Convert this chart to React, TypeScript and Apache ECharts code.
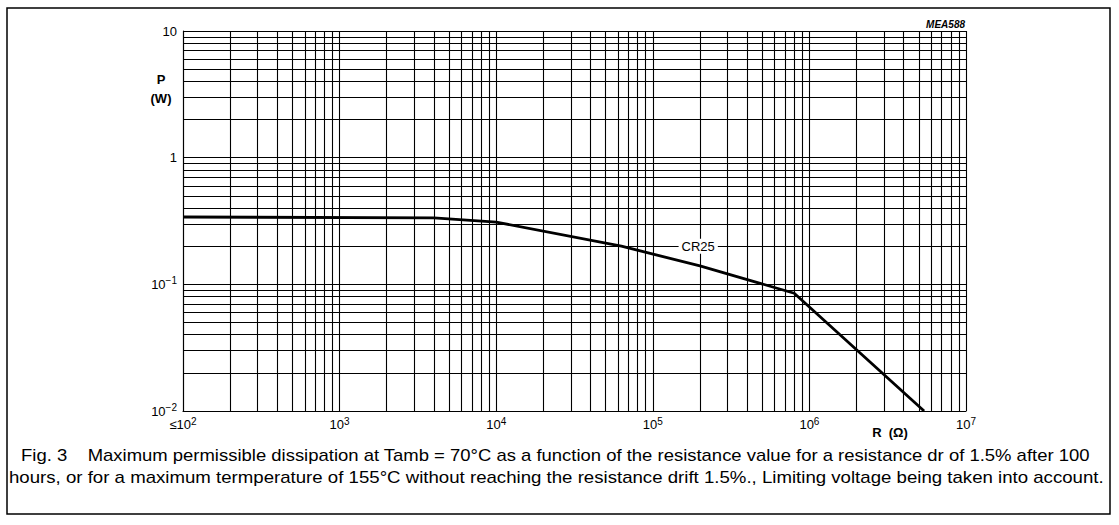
import React, { useEffect, useRef } from 'react';
import * as echarts from 'echarts';

// Curve CR25: resistance (Ω) vs maximum dissipation (W)
const resistance = [100, 4000, 10000, 63000, 200000, 800000, 5400000];
const power = [0.34, 0.335, 0.31, 0.2, 0.14, 0.085, 0.01];

// Axis ticks
const xTicks = [100, 1000, 10000, 100000, 1000000, 10000000];
const xTickLabels = ['≤10{s|2}', '10{s|3}', '10{s|4}', '10{s|5}', '10{s|6}', '10{s|7}'];
const yTicks = [0.01, 0.1, 1, 10];
const yTickLabels = ['10{s|−2}', '10{s|−1}', '1', '10'];

// Log grid: minor lines at 2..9 of every decade
const xDecades = [100, 1000, 10000, 100000, 1000000];
const yDecades = [0.01, 0.1, 1];
const minorMultipliers = [2, 3, 4, 5, 6, 7, 8, 9];

const curveName = 'CR25';
const labelPoint = [195000, 0.2];

const caption1 = 'Fig. 3    Maximum permissible dissipation at Tamb = 70°C as a function of the resistance value for a resistance dr of 1.5% after 100';
const caption2 = 'hours, or for a maximum termperature of 155°C without reaching the resistance drift 1.5%., Limiting voltage being taken into account.';

const FONT = '"Liberation Sans", Arial, Helvetica, sans-serif';

export default function App() {
  const ref = useRef<HTMLDivElement>(null);
  useEffect(() => {
    document.body.style.margin = '0';
    if (!ref.current) return;
    const chart = echarts.init(ref.current, undefined, { renderer: 'svg' });

    const minorX: any[] = [];
    xDecades.forEach((d) => minorMultipliers.forEach((m) => minorX.push({ xAxis: d * m })));
    const minorY: any[] = [];
    yDecades.forEach((d) => minorMultipliers.forEach((m) => minorY.push({ yAxis: d * m })));

    const labelIndex = (ticks: number[], v: number) => {
      const lv = Math.log10(v);
      return ticks.findIndex((t) => Math.abs(Math.log10(t) - lv) < 1e-6);
    };

    const rich = {
      s: { fontSize: 10, verticalAlign: 'top', lineHeight: 17, color: '#000', fontFamily: FONT },
    };

    const gridLine = { color: '#000', width: 1.1 };

    const option: any = {
      animation: false,
      backgroundColor: '#fff',
      textStyle: { fontFamily: FONT },
      grid: { left: 183, right: 153, top: 31, bottom: 114, containLabel: false },
      xAxis: {
        type: 'log',
        logBase: 10,
        min: 100,
        max: 10000000,
        splitNumber: 5,
        axisLine: { show: true, lineStyle: gridLine },
        axisTick: { show: false },
        minorTick: { show: false },
        splitLine: { show: true, lineStyle: gridLine },
        axisLabel: {
          margin: 5,
          color: '#000',
          fontSize: 13,
          fontFamily: FONT,
          lineHeight: 17,
          verticalAlign: 'top',
          rich,
          formatter: (v: number) => {
            const i = labelIndex(xTicks, v);
            return i >= 0 ? xTickLabels[i] : '';
          },
        },
      },
      yAxis: {
        type: 'log',
        logBase: 10,
        min: 0.01,
        max: 10,
        splitNumber: 3,
        axisLine: { show: true, lineStyle: gridLine },
        axisTick: { show: false },
        minorTick: { show: false },
        splitLine: { show: true, lineStyle: gridLine },
        axisLabel: {
          margin: 6,
          color: '#000',
          fontSize: 13,
          fontFamily: FONT,
          lineHeight: 17,
          rich,
          formatter: (v: number) => {
            const i = labelIndex(yTicks, v);
            return i >= 0 ? yTickLabels[i] : '';
          },
        },
      },
      series: [
        {
          name: curveName,
          type: 'line',
          data: resistance.map((r, i) => [r, power[i]]),
          symbol: 'none',
          lineStyle: { color: '#000', width: 2.8 },
          z: 5,
          markLine: {
            silent: true,
            symbol: ['none', 'none'],
            label: { show: false },
            lineStyle: { color: '#000', width: 1.1, type: 'solid' },
            emphasis: { disabled: true },
            data: [...minorX, ...minorY],
          },
          markPoint: {
            silent: true,
            symbol: 'rect',
            symbolSize: 0,
            data: [{ coord: labelPoint }],
            label: {
              show: true,
              position: 'inside',
              formatter: curveName,
              color: '#000',
              fontSize: 13,
              fontFamily: FONT,
              backgroundColor: '#fff',
              padding: [1, 3],
            },
          },
        },
      ],
      graphic: [
        {
          type: 'rect',
          shape: { x: 7, y: 8, width: 1103, height: 506 },
          style: { fill: 'none', stroke: '#000', lineWidth: 1.5 },
          silent: true,
        },
        {
          type: 'text',
          x: 161,
          y: 79,
          style: { text: 'P', fontSize: 13, fontWeight: 'bold', fontFamily: FONT, fill: '#000', align: 'center', verticalAlign: 'middle' },
        },
        {
          type: 'text',
          x: 161,
          y: 98,
          style: { text: '(W)', fontSize: 13, fontWeight: 'bold', fontFamily: FONT, fill: '#000', align: 'center', verticalAlign: 'middle' },
        },
        {
          type: 'text',
          x: 890,
          y: 432,
          style: { text: 'R  (Ω)', fontSize: 13, fontWeight: 'bold', fontFamily: FONT, fill: '#000', align: 'center', verticalAlign: 'middle' },
        },
        {
          type: 'text',
          x: 965,
          y: 24,
          style: { text: 'MEA588', fontSize: 10, fontStyle: 'italic', fontWeight: 'bold', fontFamily: FONT, fill: '#000', align: 'right', verticalAlign: 'middle' },
        },
        {
          type: 'text',
          x: 21,
          y: 455,
          scaleX: 1.155,
          style: { text: caption1, fontSize: 16, fontFamily: FONT, fill: '#000', align: 'left', verticalAlign: 'middle' },
        },
        {
          type: 'text',
          x: 9,
          y: 477,
          scaleX: 1.165,
          style: { text: caption2, fontSize: 16, fontFamily: FONT, fill: '#000', align: 'left', verticalAlign: 'middle' },
        },
      ],
    };
    chart.setOption(option);
    return () => chart.dispose();
  }, []);
  return <div ref={ref} style={{ width: 1119, height: 525 }} />;
}
